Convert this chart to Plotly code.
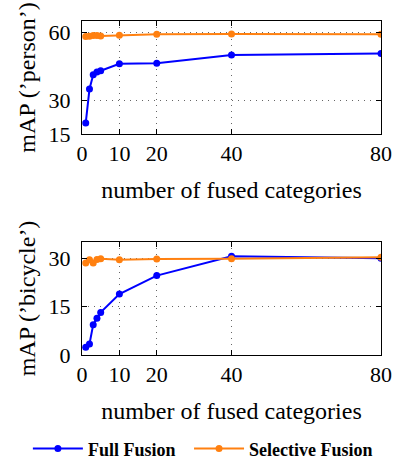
import plotly.graph_objects as go
from plotly.subplots import make_subplots

x_vals = [1, 2, 3, 4, 5, 10, 20, 40, 80]
person_full = [19.9, 34.9, 41.2, 42.4, 43.0, 46.1, 46.3, 50.0, 50.6]
person_selective = [58.1, 58.3, 58.6, 58.6, 58.4, 58.7, 59.1, 59.2, 59.1]
bicycle_full = [2.4, 3.4, 9.4, 11.4, 13.2, 18.9, 24.6, 30.6, 30.0]
bicycle_selective = [28.5, 29.5, 28.5, 29.6, 29.8, 29.5, 29.7, 29.8, 30.3]
x_ticks = [0, 10, 20, 40, 80]
person_ticks = [15, 30, 60]
bicycle_ticks = [0, 15, 30]

BLUE = "#0000ff"
ORANGE = "#ff8010"
FONT = "Liberation Serif"

fig = make_subplots(rows=2, cols=1)

def add(row, yv, name, color, show, legend):
    fig.add_trace(go.Scatter(x=x_vals, y=yv, mode="lines+markers", name=name,
                             line=dict(color=color, width=2),
                             marker=dict(color=color, size=7),
                             showlegend=show, legend=legend), row=row, col=1)

add(1, person_full, "<b>Full Fusion</b>", BLUE, True, "legend")
add(1, person_selective, "<b>Selective Fusion</b>", ORANGE, True, "legend2")
add(2, bicycle_full, "<b>Full Fusion</b>", BLUE, False, "legend")
add(2, bicycle_selective, "<b>Selective Fusion</b>", ORANGE, False, "legend2")

axis_common = dict(showline=True, linecolor="black", linewidth=1, mirror="ticks",
                   ticks="inside", ticklen=5, tickcolor="black", automargin=False,
                   showgrid=True, gridcolor="#666666", griddash="1px,5px", gridwidth=1,
                   zeroline=False, tickfont=dict(family=FONT, size=22, color="black"))

top_dom = [(355 - 134) / 334, 1.0]
bot_dom = [0.0, (355 - 242) / 334]

fig.update_xaxes(**axis_common, range=[0, 80], tickvals=x_ticks, ticklabelstandoff=0,
                 title=dict(text="number of fused categories", font=dict(family=FONT, size=24, color="black"), standoff=15))
fig.update_yaxes(**axis_common, ticklabelstandoff=6,
                 title=dict(font=dict(family=FONT, size=24, color="black"), standoff=6))
fig.update_yaxes(range=[15, 65], tickvals=person_ticks, domain=top_dom,
                 title_text="mAP (’person’)", row=1, col=1)
fig.update_yaxes(range=[0, 35], tickvals=bicycle_ticks, domain=bot_dom,
                 title_text="mAP (’bicycle’)", row=2, col=1)

leg_common = dict(orientation="h", yanchor="middle", y=-0.281, xanchor="left",
                  font=dict(family=FONT, size=18, color="black"), itemwidth=50,
                  bgcolor="rgba(0,0,0,0)")
fig.update_layout(
    width=394, height=459,
    margin=dict(l=82, r=13, t=21, b=104, autoexpand=False),
    plot_bgcolor="white", paper_bgcolor="white",
    font=dict(family=FONT, size=18, color="black"),
    legend=dict(**leg_common, x=-0.181),
    legend2=dict(**leg_common, x=0.358),
)

fig.write_html("out.html")
